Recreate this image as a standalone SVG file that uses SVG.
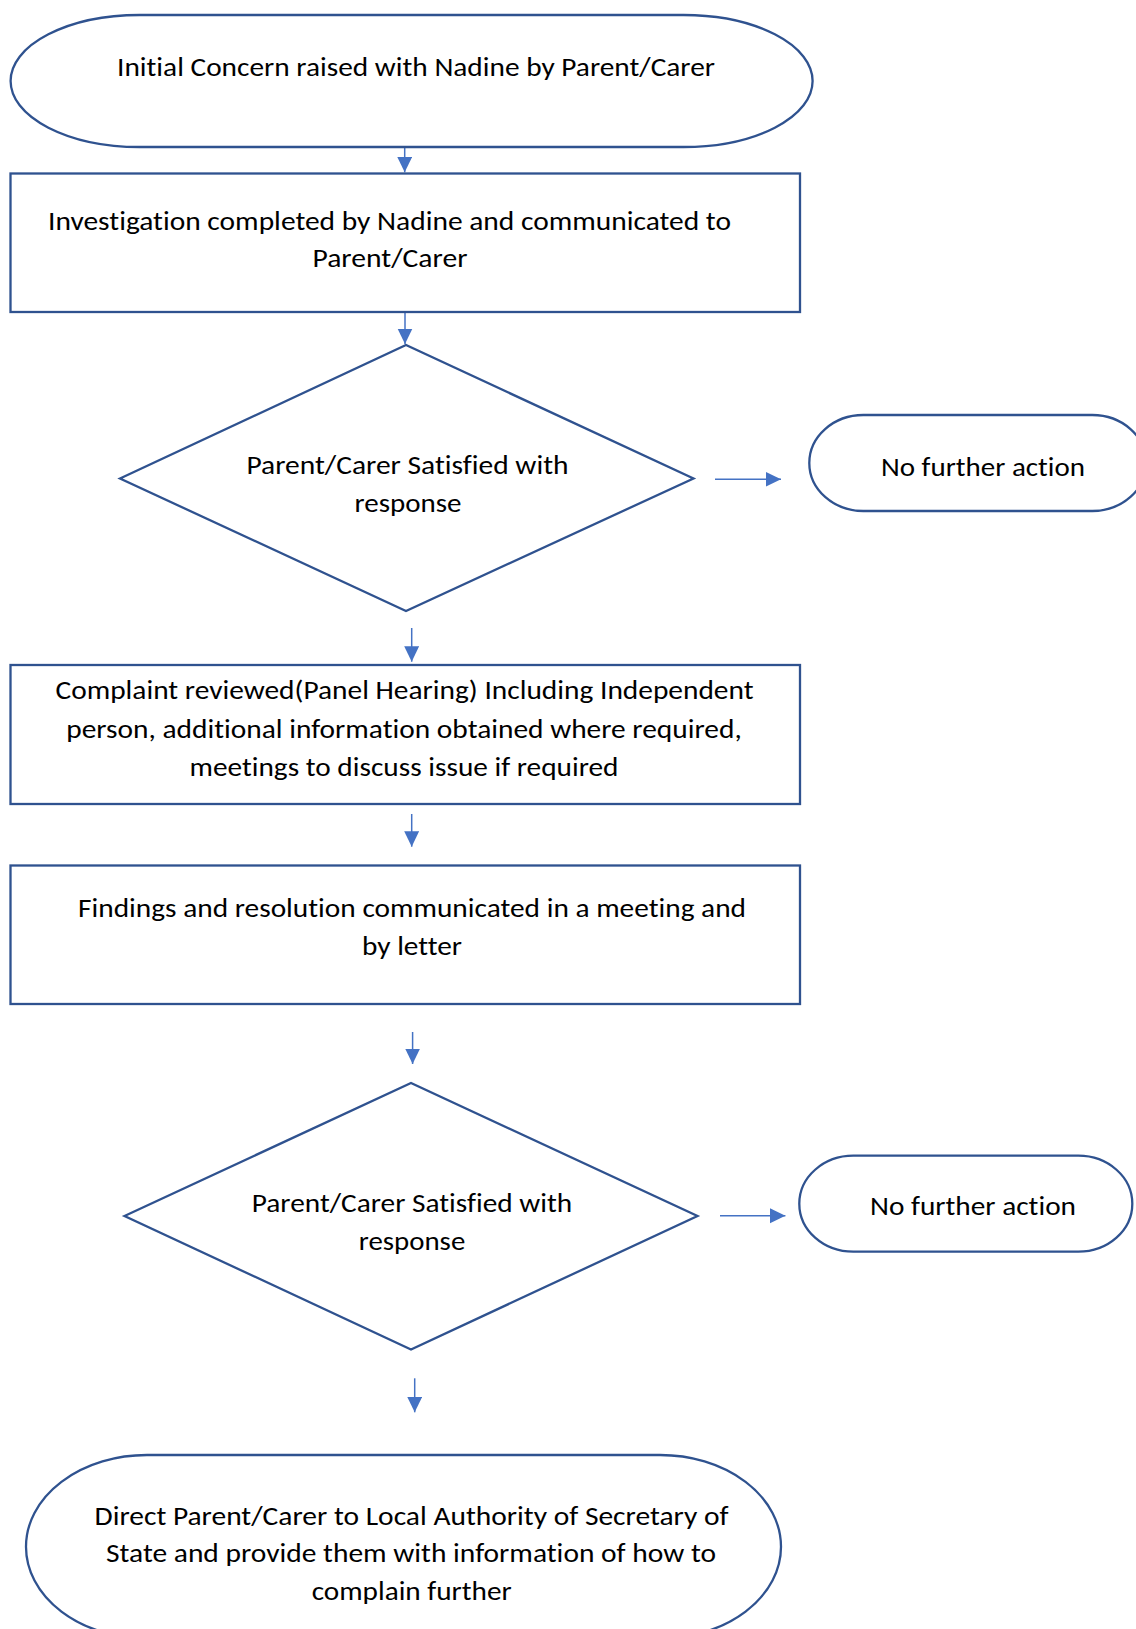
<svg xmlns="http://www.w3.org/2000/svg" width="1136" height="1629" viewBox="0 0 1136 1629">
<style>
.shape{fill:#fff;stroke:#2F528F;stroke-width:2.3}
.conn{stroke:#4472C4;stroke-width:1.5;fill:none}
text{font-family:Calibri,Carlito,Lato,"Noto Sans",sans-serif;font-size:26.5px;fill:#000;text-anchor:middle;font-variant-ligatures:none}
</style>
<defs>
<marker id="arr" markerUnits="userSpaceOnUse" markerWidth="16" markerHeight="16" refX="15.5" refY="7.5" orient="auto">
<path d="M0,0 L15.5,7.5 L0,15 z" fill="#4472C4"/>
</marker>
</defs>
<rect width="1136" height="1629" fill="#fff"/>
<g id="connectors">
<line class="conn" x1="404.7" y1="147" x2="404.7" y2="172.3" marker-end="url(#arr)"/>
<line class="conn" x1="405" y1="312" x2="405" y2="344" marker-end="url(#arr)"/>
<line class="conn" x1="411.7" y1="628" x2="411.7" y2="661.7" marker-end="url(#arr)"/>
<line class="conn" x1="411.7" y1="814" x2="411.7" y2="846.7" marker-end="url(#arr)"/>
<line class="conn" x1="412.6" y1="1032" x2="412.6" y2="1064" marker-end="url(#arr)"/>
<line class="conn" x1="414.7" y1="1378.3" x2="414.7" y2="1412.3" marker-end="url(#arr)"/>
<line class="conn" x1="715" y1="479.3" x2="781" y2="479.3" marker-end="url(#arr)"/>
<line class="conn" x1="720" y1="1215.7" x2="785.4" y2="1215.7" marker-end="url(#arr)"/>
</g>
<g id="start">
<rect class="shape" x="10.6" y="15" width="802" height="132" rx="129" ry="66"/>
<text x="416" y="76" textLength="598" lengthAdjust="spacingAndGlyphs">Initial Concern raised with Nadine by Parent/Carer</text>
</g>
<g id="investigation">
<rect class="shape" x="10.5" y="173.5" width="789.5" height="138.5"/>
<text x="389.5" y="230" textLength="683" lengthAdjust="spacingAndGlyphs">Investigation completed by Nadine and communicated to</text>
<text x="390" y="267.3" textLength="155" lengthAdjust="spacingAndGlyphs">Parent/Carer</text>
</g>
<g id="decision1">
<polygon class="shape" points="120,478.5 406,345 693.5,478.5 406,611"/>
<text x="407.5" y="473.5" textLength="322" lengthAdjust="spacingAndGlyphs">Parent/Carer Satisfied with</text>
<text x="408" y="511.5" textLength="107" lengthAdjust="spacingAndGlyphs">response</text>
</g>
<g id="nfa1">
<rect class="shape" x="809.3" y="415" width="337" height="96" rx="54" ry="48"/>
<text x="983" y="475.5" textLength="204" lengthAdjust="spacingAndGlyphs">No further action</text>
</g>
<g id="review">
<rect class="shape" x="10.5" y="665" width="789.5" height="139"/>
<text x="404.5" y="699" textLength="698" lengthAdjust="spacingAndGlyphs">Complaint reviewed(Panel Hearing) Including Independent</text>
<text x="404" y="737.5" textLength="675.5" lengthAdjust="spacingAndGlyphs">person, additional information obtained where required,</text>
<text x="404" y="776" textLength="429" lengthAdjust="spacingAndGlyphs">meetings to discuss issue if required</text>
</g>
<g id="findings">
<rect class="shape" x="10.5" y="865.5" width="789.5" height="138.5"/>
<text x="412" y="916.5" textLength="668" lengthAdjust="spacingAndGlyphs">Findings and resolution communicated in a meeting and</text>
<text x="412" y="955" textLength="100" lengthAdjust="spacingAndGlyphs">by letter</text>
</g>
<g id="decision2">
<polygon class="shape" points="124.5,1216 411,1083 697.5,1216 411,1349.5"/>
<text x="412" y="1211.5" textLength="320.5" lengthAdjust="spacingAndGlyphs">Parent/Carer Satisfied with</text>
<text x="412" y="1250" textLength="106.5" lengthAdjust="spacingAndGlyphs">response</text>
</g>
<g id="nfa2">
<rect class="shape" x="799.3" y="1155.7" width="333" height="96" rx="54" ry="48"/>
<text x="973" y="1215" textLength="206" lengthAdjust="spacingAndGlyphs">No further action</text>
</g>
<g id="end">
<rect class="shape" x="26" y="1455" width="755" height="183.4" rx="121" ry="91.7"/>
<text x="411.5" y="1524.5" textLength="634" lengthAdjust="spacingAndGlyphs">Direct Parent/Carer to Local Authority of Secretary of</text>
<text x="411" y="1562" textLength="610" lengthAdjust="spacingAndGlyphs">State and provide them with information of how to</text>
<text x="411.7" y="1600" textLength="200" lengthAdjust="spacingAndGlyphs">complain further</text>
</g>
</svg>
